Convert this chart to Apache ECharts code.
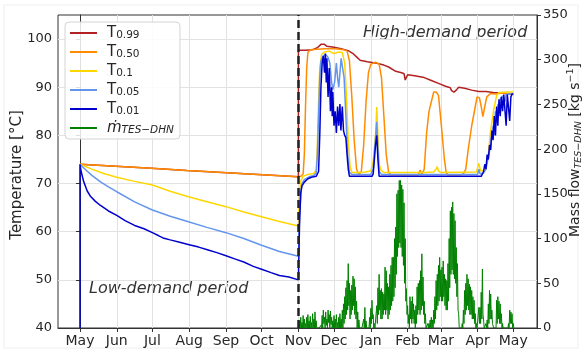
<!DOCTYPE html>
<html><head><meta charset="utf-8">
<script src="https://cdn.jsdelivr.net/npm/echarts@6/dist/echarts.min.js"></script>
<style>html,body{margin:0;padding:0;background:#fff}#c{width:582px;height:352px}</style>
</head><body><div id="c"></div>
<script>
// x values are days counted from 1 May (start of the low-demand period)
const monthTicks = [0,31,61,92,123,153,184,214,245,276,304,335,365];
const monthLabels = ['May','Jun','Jul','Aug','Sep','Oct','Nov','Dec','Jan','Feb','Mar','Apr','May'];
const tempTicks = [40,50,60,70,80,90,100];
const flowTicks = [0,50,100,150,200,250,300,350];
const periodSplitDay = 184;

const seriesNames = ['T0.99','T0.50','T0.1','T0.05','T0.01','mdot'];
const legendLabels = ['{t|T}{s|0.99}','{t|T}{s|0.50}','{t|T}{s|0.1}','{t|T}{s|0.05}','{t|T}{s|0.01}','{mi|ṁ}{si|TES−DHN}'];

const t099 = [[0,74],[30,73.6],[60,73.2],[90,72.7],[120,72.3],[150,71.9],[184,71.4],[184,97.7],[190,97.7],[196,97.8],[200,98.2],[203,98.9],[206,98.9],[208,98.5],[214,98.3],[220,98.0],[226,97.6],[230,97.0],[233,96.3],[236,95.6],[242,95.3],[250,95.0],[256,94.6],[260,94.2],[266,93.3],[271,93.0],[273,92.8],[274,91.5],[275,91.2],[276,92.6],[282,92.4],[290,92.0],[296,91.4],[302,90.8],[308,90.2],[312,89.9],[313,89.3],[315,89.0],[317,89.4],[319,90.0],[324,89.8],[330,89.4],[336,89.1],[342,89.1],[348,88.9],[355,88.8],[365,88.5]];
const t050 = [[0,74],[30,73.6],[60,73.2],[90,72.7],[120,72.3],[150,71.9],[184,71.4],[186,71.5],[188,72],[189,76],[190,86],[191,94],[192,97.2],[194,97.8],[200,97.9],[206,98.0],[215,98.0],[222,97.8],[225,97.5],[227,95.5],[229,88],[231,79],[233,73],[235,71.8],[237,72.5],[239,78],[241,87],[243,93],[245,94.8],[249,95.2],[252,94.8],[254,92],[256,84],[258,76],[260,72.3],[262,71.8],[275,71.8],[285,71.8],[286.5,72.8],[288,71.9],[290,73],[292,80.5],[294,85],[296.5,87.5],[298,89],[300,89],[302,88.3],[303.5,84.5],[305,80.5],[307,75],[308.5,72.3],[310,71.8],[320,71.8],[323,72],[325,73],[327,77],[330,82],[333,86],[334.5,88],[336.5,87.8],[338,86],[339.4,83.9],[341,86],[342.7,88],[345.7,88.7],[350,88.6],[355,88.8],[360,88.7],[365,88.6]];
const t010 = [[0,74],[10,73.0],[20,72.1],[31,71.3],[45,70.5],[61,69.7],[76,68.4],[92,67.2],[107,66.2],[123,65.2],[138,64.1],[153,63.1],[168,62.1],[184,61.2],[185,68],[186,70.5],[188,71.5],[192,71.9],[197,72.1],[199,72.8],[200,78],[201,87],[202,94],[203.5,96.8],[206,97.3],[210,97.5],[214,97.0],[218,97.3],[221,97.2],[223,95],[224.5,88],[226,79],[227.5,73.5],[229,72.3],[235,72.3],[240,72.4],[245,72.6],[247,74.5],[249,80],[250,85.9],[251,80],[252,74],[253.5,72.8],[256,72.3],[290,72.3],[298,72.4],[300,73],[301,73.5],[302,72.6],[304,72.3],[334,72.4],[336,74.2],[337.5,72.6],[340,72.7],[342,73.5],[344,76],[345.7,80.5],[348.5,85.3],[351,88.3],[353,88.9],[360,89.0],[365,89.0]];
const t005 = [[0,74],[5,72.8],[10,71.7],[17,70.4],[24,69.3],[31,68.3],[46,66.2],[61,64.5],[76,63.2],[92,62.0],[107,60.9],[123,59.8],[138,58.6],[153,57.2],[168,55.9],[184,54.9],[185,63],[186,68],[187,70],[189,70.8],[193,71.4],[197,71.7],[199,72.2],[200,76],[201,84],[202,92],[203,95.5],[205,96.5],[207,96.8],[209,96.2],[210.5,95],[212,91],[213,89.5],[214.5,91],[216,95],[217,92],[218,90],[219,93],[220,96],[221.5,96.2],[222.5,92],[224,84],[225.5,76],[227,72.3],[229,71.9],[245,71.9],[247,73],[248.5,78],[250,82.8],[251,77],[252,72.5],[254,71.9],[335,71.9],[336,73],[337,72],[340,72.2],[342,73],[344,75.5],[346,78],[348,82],[349,80],[350,85],[351,83],[352,86.5],[353,85.5],[354,87.5],[356,88.2],[358,87],[359,88.5],[362,88.6],[365,88.7]];
const t001 = [[0,40],[0,74],[1,72.5],[3,70.5],[6,68.5],[9,67.3],[13,66.3],[17,65.5],[24,64.3],[31,63.4],[38,62.3],[46,61.3],[54,60.6],[61,59.8],[66,59.2],[70,58.7],[76,58.3],[84,57.8],[92,57.3],[100,56.8],[108,56.2],[116,55.6],[123,55.0],[131,54.3],[138,53.7],[146,52.8],[153,52.2],[161,51.5],[168,50.9],[176,50.6],[184,50.0],[185,62],[186,68],[187,69.5],[189,70.3],[192,71],[195,71.3],[199,71.5],[201,72.5],[202,80],[203,90],[204,95],[205,96.5],[206,93],[206.7,97],[207.5,91],[208,96],[209,88],[210,94],[211,85],[212,90],[212.5,84],[213,89],[214,82],[215,85],[216,80.5],[217,86],[218,82],[219,86.5],[219.8,81],[220.5,84],[221,86],[222,81],[223,80],[224,79.5],[225,76],[226,73],[227,71.5],[246,71.5],[247,72],[248,75],[249,78],[250,80],[251,75],[252,71.5],[336,71.5],[337,71.9],[338,71.5],[340,72.5],[341,74],[342,73],[343,76],[344,75],[345,78],[346,77],[347,81],[348,79],[349,84],[350,80],[351,86],[352,82],[353,87.5],[354,84],[355,88],[356,85],[357,88.5],[358,88.8],[359,82],[360,88.5],[361,88.5],[362,83],[363,88],[364,88.6],[365,88.6]];

// mass flow: daily spike maxima and the minima between spikes, from day 184 (1 Nov)
const flowStartDay = 184;
const flowPeak = [
 3,8,12,6,14,10,5,12,15,8,
 13,6,16,10,18,8,2,0,0,3,
 14,20,12,18,10,20,15,19,12,8,
 14,10,15,6,12,16,10,20,27,35,
 45,53,72,50,42,48,58,55,46,30,
 18,9,0,0,0,10,23,8,0,0,
 12,22,31,15,5,0,25,45,60,42,
 44,40,38,68,64,50,46,60,70,79,
 79,100,113,150,154,165,165,160,155,140,
 100,44,25,15,35,30,35,27,20,25,
 46,50,53,64,83,57,30,16,0,5,
 5,9,12,9,20,35,53,60,70,79,
 65,68,75,60,55,53,72,100,131,135,
 141,128,120,90,72,16,0,0,5,20,
 42,50,60,55,49,46,42,35,31,16,
 5,0,23,23,40,66,9,0,5,9,
 27,42,38,20,5,0,0,31,35,30,
 27,16,5,0,0,0,0,5,20,18,
 16,5];
const flowTrough = [
 0,0,0,0,0,0,0,0,0,0,
 0,0,0,0,0,0,0,0,0,0,
 0,5,0,3,0,6,0,4,0,0,
 0,0,0,0,0,0,0,0,5,10,
 15,20,25,10,15,20,25,15,10,0,
 0,0,0,0,0,0,0,0,0,0,
 0,5,10,0,0,0,5,15,20,10,
 10,15,20,15,20,10,15,20,25,30,
 35,45,60,80,90,95,90,80,70,50,
 30,15,5,0,10,5,10,5,0,5,
 15,20,15,20,25,15,5,0,0,0,
 0,0,0,0,5,10,20,25,30,35,
 30,30,35,25,20,20,30,45,60,65,
 60,55,50,35,20,0,0,0,0,5,
 15,20,25,20,15,15,10,10,5,0,
 0,0,5,5,10,15,0,0,0,0,
 5,10,10,5,0,0,0,5,10,5,
 5,0,0,0,0,0,0,0,5,5,
 0,0];

const flowData = [];
flowPeak.forEach((v, i) => {
  flowData.push([flowStartDay + i, v]);
  flowData.push([flowStartDay + i + 0.5, flowTrough[i]]);
});

const FF = "'DejaVu Sans', sans-serif";
const TXT = '#262626';
const AX = '#333333';

function tLine(name, data, color) {
  return { name, type: 'line', data, symbol: 'none', showSymbol: false,
    lineStyle: { color, width: 1.5 }, itemStyle: { color }, z: 2 };
}

const chart = echarts.init(document.getElementById('c'), null, { renderer: 'canvas' });
chart.setOption({
  animation: false,
  backgroundColor: '#ffffff',
  grid: { left: 58, right: 45, top: 15, bottom: 24, show: true, borderColor: AX, borderWidth: 1, backgroundColor: 'transparent' },
  legend: {
    orient: 'vertical', left: 65, top: 22, padding: [3, 6, 3, 5], itemGap: 3,
    itemWidth: 27, itemHeight: 2, icon: 'rect',
    backgroundColor: 'rgba(255,255,255,0.85)', borderColor: '#d4d4d4', borderWidth: 1, borderRadius: 4,
    data: seriesNames,
    formatter: n => legendLabels[seriesNames.indexOf(n)],
    textStyle: {
      padding: [0, 0, 0, 5], height: 16, lineHeight: 16,
      rich: {
        t: { fontSize: 15, lineHeight: 16, fontFamily: FF, color: TXT },
        s: { fontSize: 10.5, lineHeight: 8, verticalAlign: 'bottom', fontFamily: FF, color: TXT },
        mi: { fontSize: 15, lineHeight: 16, fontStyle: 'italic', fontFamily: FF, color: TXT },
        si: { fontSize: 10.5, lineHeight: 8, verticalAlign: 'bottom', fontStyle: 'italic', fontFamily: FF, color: TXT }
      }
    }
  },
  xAxis: {
    type: 'value', min: -18.5, max: 385,
    axisLine: { lineStyle: { color: AX } },
    axisTick: { customValues: monthTicks, length: 4, lineStyle: { color: AX } },
    axisLabel: { customValues: monthTicks, formatter: v => monthLabels[monthTicks.indexOf(v)], fontSize: 14, fontFamily: FF, color: TXT, margin: 6 },
    splitLine: { show: true, lineStyle: { color: '#e2e2e2', width: 1 } }
  },
  yAxis: [{
    type: 'value', min: 40, max: 105, interval: 10,
    axisLine: { show: true, lineStyle: { color: AX } },
    axisTick: { show: true, customValues: tempTicks, length: 4, lineStyle: { color: AX } },
    axisLabel: { customValues: tempTicks, fontSize: 13, fontFamily: FF, color: TXT, margin: 6 },
    splitLine: { show: true, lineStyle: { color: '#e2e2e2', width: 1 } }
  }, {
    type: 'value', min: 0, max: 350, interval: 50, position: 'right',
    axisLine: { show: true, lineStyle: { color: AX } },
    axisTick: { show: true, customValues: flowTicks, length: 4, lineStyle: { color: AX } },
    axisLabel: { customValues: flowTicks, fontSize: 13, fontFamily: FF, color: TXT, margin: 6 },
    splitLine: { show: false }
  }],
  series: [
    tLine('T0.99', t099, '#b22222'),
    tLine('T0.50', t050, '#ff8c00'),
    tLine('T0.1', t010, '#ffd700'),
    tLine('T0.05', t005, '#6495ed'),
    tLine('T0.01', t001, '#0000cd'),
    { name: 'mdot', type: 'line', yAxisIndex: 1, data: flowData, symbol: 'none', showSymbol: false,
      lineStyle: { color: '#008000', width: 1 }, itemStyle: { color: '#008000' }, z: 3,
      markLine: { silent: true, symbol: 'none', label: { show: false },
        lineStyle: { color: '#222222', type: [8, 4], width: 2.5 },
        data: [{ xAxis: periodSplitDay }] } }
  ],
  graphic: [
    { type: 'rect', shape: { x: 4, y: 5, width: 574, height: 343 }, style: { fill: 'none', stroke: '#eeeeee', lineWidth: 1 }, silent: true, z: -10 },
    { type: 'text', x: 17, y: 175, rotation: Math.PI / 2,
      style: { text: 'Temperature [°C]', font: "15px 'DejaVu Sans'", fill: TXT, align: 'center', verticalAlign: 'middle' } },
    { type: 'text', x: 575, y: 150, rotation: Math.PI / 2,
      style: { text: '{a|Mass flow}{b|TES−DHN}{a| [kg s}{c|−1}{a|]}', align: 'center', verticalAlign: 'middle',
        rich: {
          a: { font: "14px 'DejaVu Sans'", lineHeight: 18, fill: TXT },
          b: { font: "italic 9.5px 'DejaVu Sans'", lineHeight: 8, verticalAlign: 'bottom', fill: TXT },
          c: { font: "9.5px 'DejaVu Sans'", lineHeight: 10, verticalAlign: 'top', fill: TXT }
        } } },
    { type: 'text', x: 363, y: 33,
      style: { text: 'High-demand period', font: "italic 16px 'DejaVu Sans'", fill: '#333333', align: 'left', verticalAlign: 'middle' } },
    { type: 'text', x: 89, y: 289,
      style: { text: 'Low-demand period', font: "italic 16px 'DejaVu Sans'", fill: '#333333', align: 'left', verticalAlign: 'middle' } }
  ]
});
</script></body></html>
